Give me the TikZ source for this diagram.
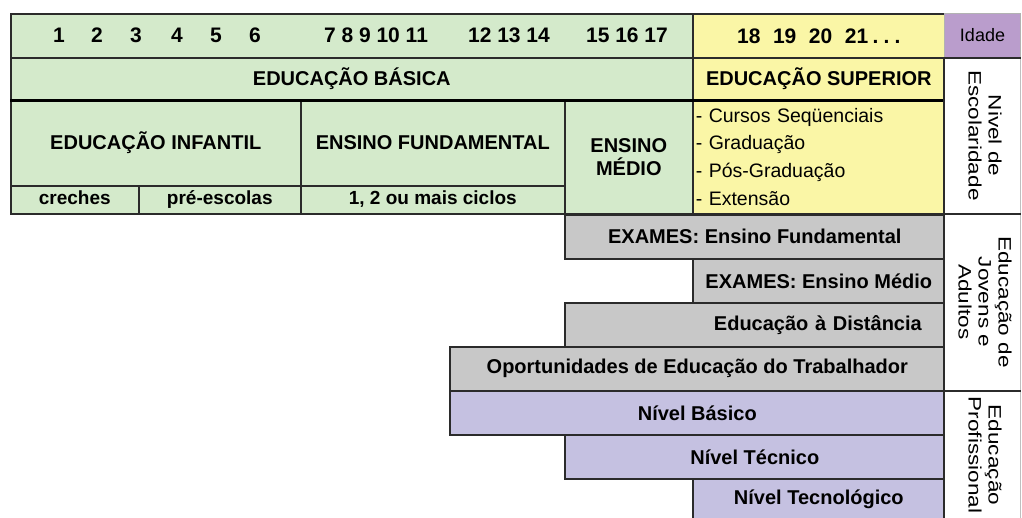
\documentclass[tikz,border=0pt]{standalone}
\usepackage{fontspec}
\setmainfont{Liberation Sans}
\newfontfamily\sidefont[FakeStretch=1.25]{Liberation Sans}

\definecolor{verde}{HTML}{D4EACB}
\definecolor{amarelo}{HTML}{FAF6A6}
\definecolor{roxo}{HTML}{BA9DCC}
\definecolor{lilas}{HTML}{C5C1E1}
\definecolor{cinza}{HTML}{C8C8C8}
\definecolor{linha}{HTML}{2B2B2B}

\newcommand\vtexto[1]{\rotatebox{-90}{\begin{tabular}{@{}c@{}}#1\end{tabular}}}

\begin{document}
\begin{tikzpicture}[x=1pt,y=-1pt,
    cell/.style={draw=linha,line width=1.6pt,inner sep=0pt,anchor=north west,
        font=\bfseries\fontsize{20}{23}\selectfont},
    cellat/.style n args={4}{at={(#1,#2)},minimum width={(#3)-(#1)},minimum height={(#4)-(#2)}},
    num/.style={font=\bfseries\fontsize{21}{24}\selectfont,inner sep=0pt},
    small/.style={font=\bfseries\fontsize{19}{22}\selectfont,text height=14pt,text depth=4pt},
    side/.style={cell,draw=gray!50,line width=1pt,fill=white,
        font=\sidefont\fontsize{18}{20}\selectfont},
    rule/.style={draw=linha,line width=1.6pt}]
    \useasboundingbox (0,0) rectangle (1022,517);

    % idade
    \node[cell,fill=verde,cellat={10}{13}{692}{57}] (idades) {};
    \foreach \n/\x in {1/59,2/97,3/136,4/177,5/216,6/255}
        \node[num] (n\n) at (\x,35) {\n};
    \node[num] (n7) at (376,35) {7 8 9 10 11};
    \node[num] (n12) at (509,35) {12 13 14};
    \node[num] (n15) at (627,35) {15 16 17};
    \node[cell,fill=amarelo,cellat={692}{13}{944}{57},font=\bfseries\fontsize{21}{24}\selectfont] (idsup)
        {18\hspace{.6em}19\hspace{.6em}20\hspace{.6em}21\hspace{.2em}.\hspace{.25em}.\hspace{.25em}.};
    \node[cell,fill=roxo,draw=gray!60,line width=1pt,cellat={944}{13}{1020}{57},font=\fontsize{18}{20}\selectfont] (idade) {Idade};

    % nivel de escolaridade
    \node[cell,fill=verde,cellat={10}{57}{692}{99}] (basica) {EDUCAÇÃO BÁSICA};
    \node[cell,fill=amarelo,cellat={692}{57}{944}{99}] (superior) {EDUCAÇÃO SUPERIOR};
    \node[cell,fill=verde,cellat={10}{99}{300}{185}] (infantil) {EDUCAÇÃO INFANTIL};
    \node[cell,fill=verde,cellat={300}{99}{564}{185}] (fundamental) {ENSINO FUNDAMENTAL};
    \node[cell,fill=verde,cellat={564}{99}{692}{213},align=center] (medio) {ENSINO\\MÉDIO};
    \node[cell,fill=amarelo,cellat={692}{99}{944}{213},text width=246,align=left,
        font=\fontsize{19.5}{27.7}\selectfont] (cursos)
        {- Cursos Seqüenciais\\- Graduação\\- Pós-Graduação\\- Extensão};
    \node[cell,small,fill=verde,cellat={10}{185}{138}{213}] (creches) {creches};
    \node[cell,small,fill=verde,cellat={138}{185}{300}{213}] (preescolas) {pré-escolas};
    \node[cell,small,fill=verde,cellat={300}{185}{564}{213}] (ciclos) {1, 2 ou mais ciclos};
    \draw[line width=3pt,black] (basica.south west) -- (superior.south east);

    % jovens e adultos
    \node[cell,fill=cinza,cellat={564}{214}{944}{258}] (exef) {EXAMES: Ensino Fundamental};
    \node[cell,fill=cinza,cellat={692}{258}{944}{302}] (exem) {EXAMES: Ensino Médio};
    \node[cell,fill=cinza,cellat={564}{302}{944}{346},text width=334,align=right] (dist) {Educação à Distância};
    \node[cell,fill=cinza,cellat={449}{346}{944}{390}] (trab) {Oportunidades de Educação do Trabalhador};

    % profissional
    \node[cell,fill=lilas,cellat={449}{390}{944}{434}] (basico) {Nível Básico};
    \node[cell,fill=lilas,cellat={564}{434}{944}{478}] (tecnico) {Nível Técnico};
    \node[cell,fill=lilas,cellat={692}{478}{944}{519}] (tecnol) {Nível Tecnológico};

    % coluna lateral
    \node[side,cellat={944}{57}{1020}{213}] (nivel) {\vtexto{Nivel de\\Escolaridade}};
    \node[side,cellat={944}{213}{1020}{390}] (jovens) {\vtexto{Educação de\\Jovens e\\Adultos}};
    \node[side,cellat={944}{390}{1020}{519}] (prof) {\vtexto{Educação\\Profissional}};
    \draw[rule] (idade.south west) -- (idade.south east);
    \draw[rule] (nivel.south west) -- (nivel.south east);
    \draw[rule] (jovens.south west) -- (jovens.south east);
    \draw[rule] (nivel.north west) -- (prof.south west);
\end{tikzpicture}
\end{document}
